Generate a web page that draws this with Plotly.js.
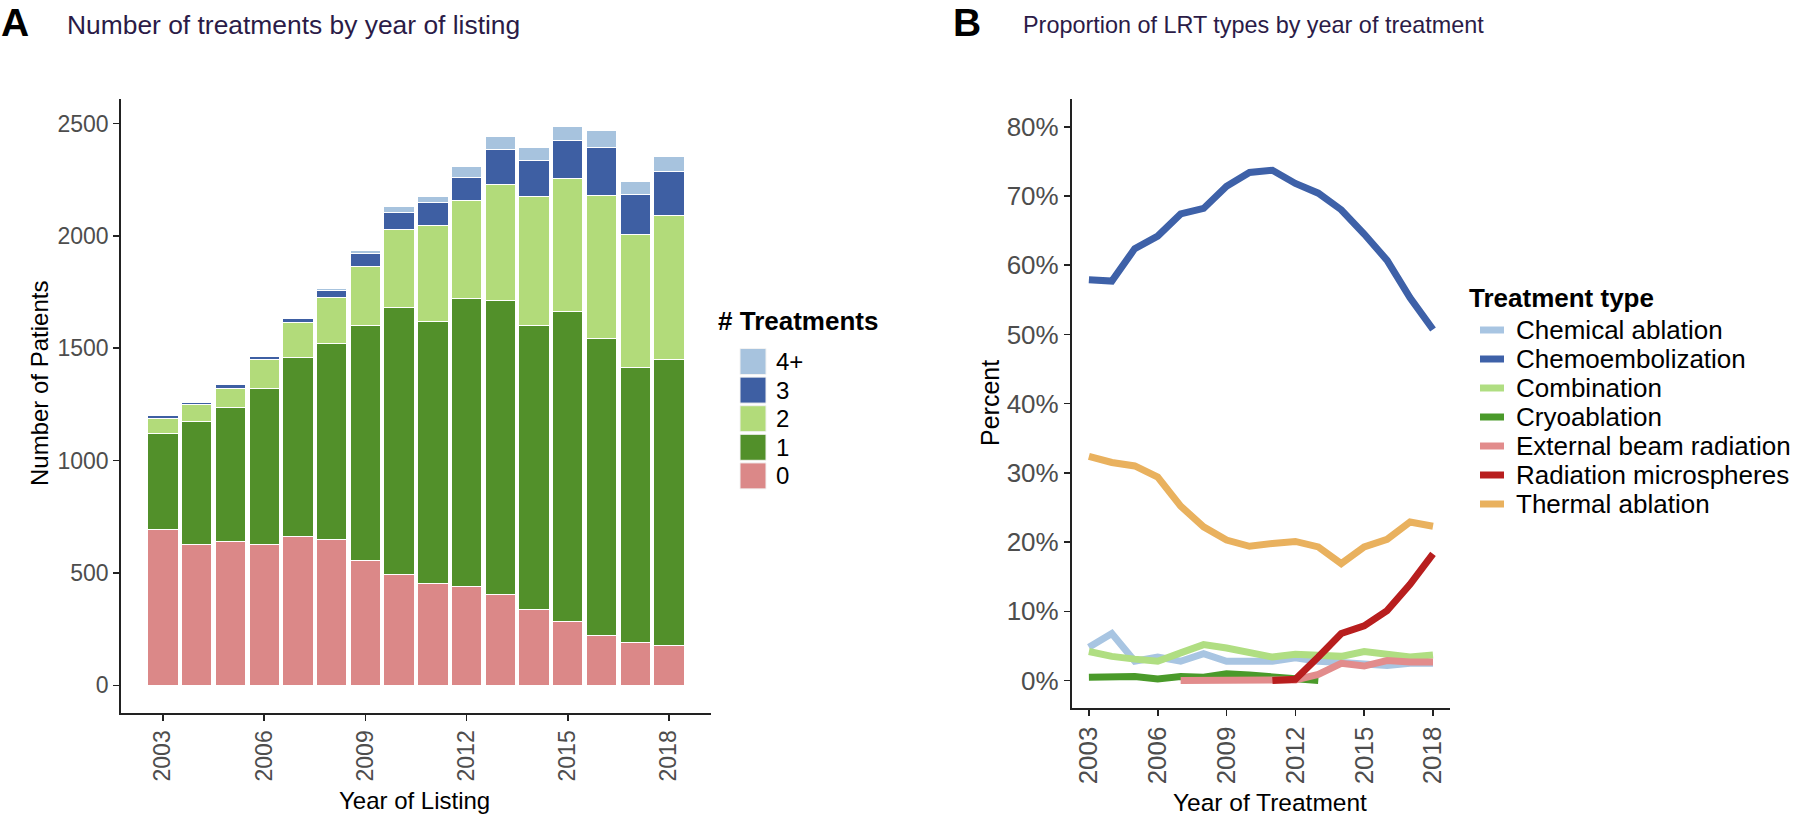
<!DOCTYPE html>
<html>
<head>
<meta charset="utf-8">
<script src="https://cdn.plot.ly/plotly-3.0.1.min.js"></script>
<style>
  html, body { margin: 0; padding: 0; background: #fff; }
  #chart { width: 1800px; height: 817px; }
</style>
</head>
<body>
<div id="chart"></div>
<script>
// ---- data ----
const years = [2003, 2004, 2005, 2006, 2007, 2008, 2009, 2010, 2011, 2012, 2013, 2014, 2015, 2016, 2017, 2018];
const yearTicks = [2003, 2006, 2009, 2012, 2015, 2018];

// panel A: patients by number of treatments, per year of listing
const treatLabels = ["0", "1", "2", "3", "4+"];
const n0 = [692, 628, 639, 628, 664, 647, 557, 493, 452, 441, 404, 336, 284, 221, 191, 178];
const n1 = [427, 548, 598, 693, 795, 874, 1044, 1187, 1169, 1281, 1310, 1266, 1381, 1322, 1225, 1270];
const n2 = [68, 72, 85, 127, 156, 205, 263, 348, 424, 437, 513, 573, 592, 637, 588, 641];
const n3 = [14, 9, 15, 16, 18, 33, 59, 76, 104, 101, 156, 159, 168, 212, 178, 196];
const n4 = [3, 2, 2, 3, 4, 7, 13, 26, 24, 50, 61, 57, 61, 76, 59, 70];
const treatColors = ["#DB8888", "#52902A", "#B2DB7A", "#3E5FA3", "#A7C3DE"];
const countTicks = [0, 500, 1000, 1500, 2000, 2500];

// panel B: share of each LRT type per year of treatment (percent)
const lrtNames = ["Chemical ablation", "Chemoembolization", "Combination", "Cryoablation",
  "External beam radiation", "Radiation microspheres", "Thermal ablation"];
const chemical = [4.8, 6.8, 2.8, 3.4, 2.8, 3.9, 2.8, 2.8, 2.8, 3.3, 2.8, 2.6, 2.3, 2.2, 2.5, 2.5];
const chemo = [57.9, 57.7, 62.4, 64.2, 67.4, 68.2, 71.4, 73.4, 73.7, 71.8, 70.4, 68.0, 64.5, 60.7, 55.3, 50.7];
const combination = [4.2, 3.5, 3.1, 2.8, 4.0, 5.2, 4.7, 4.1, 3.4, 3.8, 3.6, 3.5, 4.2, 3.8, 3.4, 3.7];
const cryo = [0.5, 0.6, 0.6, 0.25, 0.6, 0.5, 1.0, 0.8, 0.5, 0.25, 0.0, null, null, null, null, null];
const external = [null, null, null, null, 0.0, 0.0, 0.0, 0.0, 0.0, 0.1, 0.9, 2.5, 2.1, 2.9, 2.7, 2.7];
const microspheres = [null, null, null, null, null, null, null, null, 0.0, 0.2, 3.4, 6.8, 7.9, 10.1, 13.9, 18.3];
const thermal = [32.4, 31.5, 31.0, 29.4, 25.2, 22.2, 20.3, 19.4, 19.8, 20.1, 19.3, 16.9, 19.3, 20.4, 22.9, 22.3];
const lrtColors = ["#A8C5E2", "#3E61A8", "#B0DE82", "#4A9A2A", "#E28C8C", "#B81E1E", "#E9B15E"];
const pctTicks = [0, 10, 20, 30, 40, 50, 60, 70, 80];

// ---- helpers for pixel placement ----
const W = 1800, H = 817;
const px = x => x / W;
const py = y => 1 - y / H;
const FONT = "Liberation Sans, Arial, sans-serif";

// ---- traces ----
const counts = [n0, n1, n2, n3, n4];
const barTraces = counts.map((vals, i) => ({
  type: "bar",
  x: years,
  y: vals,
  name: treatLabels[i],
  width: 0.9,
  marker: { color: treatColors[i], line: { color: "#ffffff", width: 1 } },
  xaxis: "x",
  yaxis: "y",
  showlegend: false,
}));

const lrtSeries = [chemical, chemo, combination, cryo, external, microspheres, thermal];
const lineTraces = lrtSeries.map((vals, i) => ({
  type: "scatter",
  mode: "lines",
  x: years,
  y: vals,
  name: lrtNames[i],
  connectgaps: false,
  line: { color: lrtColors[i], width: 7 },
  xaxis: "x2",
  yaxis: "y2",
  showlegend: false,
}));

// ---- text and legend annotations ----
const annotations = [];
const shapes = [];
function txt(text, x, y, size, opts) {
  annotations.push(Object.assign({
    text: text, x: px(x), y: py(y), xref: "paper", yref: "paper",
    xanchor: "left", yanchor: "middle", showarrow: false, borderpad: 0,
    font: { family: FONT, size: size, color: "#000" },
  }, opts || {}));
}

// panel letters and titles
txt("<b>A</b>", 0, 22, 39);
txt("<b>B</b>", 952, 22, 39);
txt("Number of treatments by year of listing", 66, 25, 26.4, { font: { family: FONT, size: 26.4, color: "#2B1B47" } });
txt("Proportion of LRT types by year of treatment", 1022, 25, 23.4, { font: { family: FONT, size: 23.4, color: "#2B1B47" } });

// axis titles
txt("Number of Patients", 40, 384, 24, { xanchor: "center", textangle: -90 });
txt("Year of Listing", 414, 800, 24, { xanchor: "center" });
txt("Percent", 990, 403, 25, { xanchor: "center", textangle: -90 });
txt("Year of Treatment", 1270, 802, 24.5, { xanchor: "center" });

// legend A
txt("<b># Treatments</b>", 717, 321, 26);
const legendAOrder = [4, 3, 2, 1, 0];
legendAOrder.forEach((k, row) => {
  const yc = 361.5 + row * 28.6;
  shapes.push({
    type: "rect", xref: "paper", yref: "paper",
    x0: px(740), x1: px(766), y0: py(yc - 13), y1: py(yc + 13),
    fillcolor: treatColors[k], line: { color: "#f2f2f2", width: 1 },
  });
  txt(treatLabels[k], 775, yc, 24);
});

// legend B
txt("<b>Treatment type</b>", 1468, 298, 26);
lrtNames.forEach((name, i) => {
  const yc = 330 + i * 29;
  shapes.push({
    type: "line", xref: "paper", yref: "paper",
    x0: px(1480), x1: px(1504), y0: py(yc), y1: py(yc),
    line: { color: lrtColors[i], width: 7 },
  });
  txt(name, 1515, yc, 26);
});

// ---- axes ----
const axisBase = {
  showline: true, linecolor: "#222", linewidth: 1.8,
  ticks: "outside", ticklen: 6, tickwidth: 1.6, tickcolor: "#222",
  showgrid: false, zeroline: false,
  tickmode: "array",
};

const layout = {
  width: W, height: H,
  margin: { l: 0, r: 0, t: 0, b: 0 },
  paper_bgcolor: "#fff", plot_bgcolor: "#fff",
  barmode: "stack",
  bargap: 0,
  showlegend: false,
  font: { family: FONT },
  xaxis: Object.assign({}, axisBase, {
    domain: [px(121), px(711)],
    range: [2001.755, 2019.245],
    tickvals: yearTicks,
    ticktext: yearTicks.map(String),
    tickangle: -90,
    tickfont: { family: FONT, size: 23, color: "#4D4D4D" },
    anchor: "y",
  }),
  yaxis: Object.assign({}, axisBase, {
    domain: [py(713.3), py(99)],
    range: [-124.3, 2609],
    tickvals: countTicks,
    ticktext: countTicks.map(String),
    tickfont: { family: FONT, size: 23, color: "#4D4D4D" },
    anchor: "x",
  }),
  xaxis2: Object.assign({}, axisBase, {
    domain: [px(1071.7), px(1450.2)],
    range: [2002.25, 2018.75],
    tickvals: yearTicks,
    ticktext: yearTicks.map(String),
    tickangle: -90,
    tickfont: { family: FONT, size: 26, color: "#4D4D4D" },
    anchor: "y2",
  }),
  yaxis2: Object.assign({}, axisBase, {
    domain: [py(708.3), py(99)],
    range: [-4, 84],
    tickvals: pctTicks,
    ticktext: pctTicks.map(v => v + "%"),
    tickfont: { family: FONT, size: 26, color: "#4D4D4D" },
    anchor: "x2",
  }),
  annotations: annotations,
  shapes: shapes,
};

Plotly.newPlot("chart", barTraces.concat(lineTraces), layout, { displayModeBar: false, staticPlot: true });
</script>
</body>
</html>
